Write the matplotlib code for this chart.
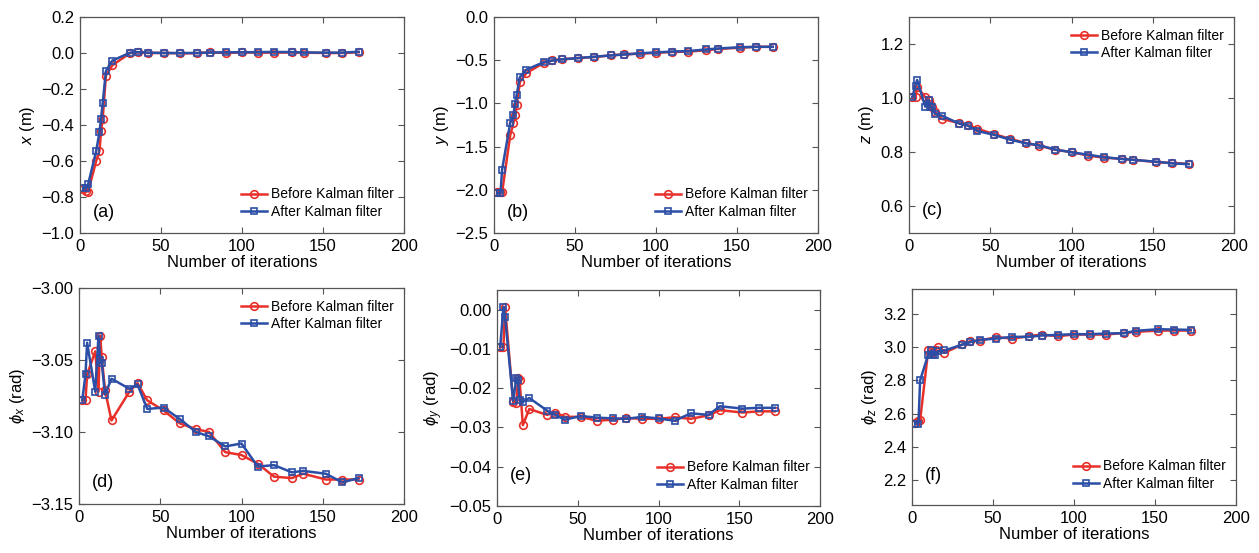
import matplotlib
matplotlib.use('Agg')
import matplotlib.pyplot as plt

# Kalman filter convergence: pose components vs number of iterations

plt.rcParams['font.family'] = ['Liberation Sans', 'DejaVu Sans']
plt.rcParams['mathtext.fontset'] = 'custom'
plt.rcParams['mathtext.rm'] = 'Liberation Sans'
plt.rcParams['mathtext.it'] = 'Liberation Sans:italic'

# Data
iters = [2, 4, 5, 10, 12, 13, 14, 16, 20, 31, 36, 42, 52, 62, 72, 80, 90, 100,
         110, 120, 131, 138, 152, 162, 172]

x_before = [-0.755, -0.765, -0.770, -0.600, -0.545, -0.435, -0.365, -0.125, -0.068,
            0.000, 0.003, 0.000, 0.000, -0.002, -0.001, 0.004, 0.000, 0.003,
            0.002, 0.002, 0.003, 0.002, 0.000, 0.000, 0.004]
x_after = [-0.752, -0.748, -0.730, -0.545, -0.440, -0.365, -0.280, -0.100, -0.042,
           0.002, 0.005, 0.002, 0.000, 0.000, 0.000, 0.002, 0.004, 0.004,
           0.005, 0.006, 0.005, 0.003, 0.002, 0.002, 0.007]

y_before = [-2.03, -2.03, -2.03, -1.37, -1.227, -1.138, -1.015, -0.752, -0.648,
            -0.529, -0.502, -0.490, -0.475, -0.463, -0.444, -0.432, -0.425, -0.415,
            -0.405, -0.400, -0.385, -0.370, -0.355, -0.345, -0.345]
y_after = [-2.04, -2.04, -1.767, -1.227, -1.138, -1.003, -0.900, -0.694, -0.610,
           -0.520, -0.505, -0.490, -0.475, -0.460, -0.445, -0.435, -0.420, -0.410,
           -0.400, -0.395, -0.375, -0.365, -0.350, -0.345, -0.345]

z_before = [1.003, 1.003, 1.042, 1.003, 0.993, 0.978, 0.965, 0.948, 0.923,
            0.907, 0.900, 0.886, 0.867, 0.849, 0.833, 0.824, 0.808, 0.800,
            0.787, 0.779, 0.775, 0.771, 0.763, 0.759, 0.756]
z_after = [1.003, 1.046, 1.067, 0.968, 0.993, 0.968, 0.965, 0.941, 0.935,
           0.905, 0.898, 0.878, 0.864, 0.846, 0.832, 0.825, 0.809, 0.799,
           0.790, 0.781, 0.774, 0.771, 0.764, 0.758, 0.755]

phx_before = [-3.078, -3.078, -3.060, -3.044, -3.072, -3.033, -3.048, -3.071, -3.092,
              -3.072, -3.066, -3.078, -3.085, -3.094, -3.098, -3.100, -3.114, -3.116,
              -3.122, -3.131, -3.132, -3.129, -3.133, -3.133, -3.133]
phx_after = [-3.078, -3.060, -3.038, -3.072, -3.033, -3.050, -3.052, -3.074, -3.063,
             -3.070, -3.067, -3.084, -3.083, -3.091, -3.100, -3.103, -3.110, -3.108,
             -3.124, -3.123, -3.128, -3.127, -3.129, -3.135, -3.132]

phy_before = [-0.0095, -0.0095, 0.0007, -0.0235, -0.0237, -0.0175, -0.0180, -0.0294, -0.0253,
              -0.0268, -0.0262, -0.0273, -0.0273, -0.0283, -0.0280, -0.0276, -0.0278, -0.0278,
              -0.0274, -0.0278, -0.0269, -0.0256, -0.0262, -0.0259, -0.0259]
phy_after = [-0.0095, 0.0007, -0.0020, -0.0232, -0.0175, -0.0180, -0.0230, -0.0235, -0.0225,
             -0.0257, -0.0268, -0.0280, -0.0271, -0.0275, -0.0277, -0.0278, -0.0273, -0.0277,
             -0.0283, -0.0264, -0.0268, -0.0246, -0.0252, -0.0250, -0.0250]

phz_before = [2.545, 2.555, 2.559, 2.980, 2.975, 2.970, 2.980, 3.000, 2.966,
              3.016, 3.036, 3.040, 3.060, 3.052, 3.066, 3.076, 3.066, 3.076,
              3.076, 3.076, 3.086, 3.092, 3.100, 3.100, 3.100]
phz_after = [2.540, 2.540, 2.800, 2.955, 2.980, 2.950, 2.955, 2.975, 2.980,
             3.015, 3.030, 3.044, 3.052, 3.062, 3.062, 3.070, 3.074, 3.078,
             3.078, 3.082, 3.084, 3.098, 3.108, 3.106, 3.104]

red = '#e8302a'
blue = '#2b4ea6'
W, H = 1259, 553

# (pixel box l, t, r, b), data, ylabel, ylim, yticks, tick format, tag, legend loc
panels = [
    ((80, 17, 404, 233), x_before, x_after, '$x$ (m)', (-1.0, 0.2),
     [-1.0, -0.8, -0.6, -0.4, -0.2, 0.0, 0.2], '%.1f', '(a)', 'lower right', 0.095),
    ((494, 17, 818, 233), y_before, y_after, '$y$ (m)', (-2.5, 0.0),
     [-2.5, -2.0, -1.5, -1.0, -0.5, 0.0], '%.1f', '(b)', 'lower right', 0.095),
    ((909, 17, 1234, 233), z_before, z_after, '$z$ (m)', (0.5, 1.3),
     [0.6, 0.8, 1.0, 1.2], '%.1f', '(c)', 'upper right', 0.105),
    ((79, 288, 404, 504), phx_before, phx_after, r'$\phi_x$ (rad)', (-3.15, -3.00),
     [-3.15, -3.10, -3.05, -3.00], '%.2f', '(d)', 'upper right', 0.10),
    ((497, 290, 820, 506), phy_before, phy_after, r'$\phi_y$ (rad)', (-0.05, 0.005),
     [-0.05, -0.04, -0.03, -0.02, -0.01, 0.0], '%.2f', '(e)', 'lower right', 0.14),
    ((912, 289, 1236, 505), phz_before, phz_after, r'$\phi_z$ (rad)', (2.05, 3.35),
     [2.2, 2.4, 2.6, 2.8, 3.0, 3.2], '%.1f', '(f)', 'lower right', 0.135),
]

fig = plt.figure(figsize=(W / 100, H / 100), dpi=100)

for box, before, after, ylab, ylim, yticks, fmt, tag, loc, tag_y in panels:
    l, t, r, b = box
    ax = fig.add_axes([l / W, 1 - b / H, (r - l) / W, (b - t) / H])
    ax.plot(iters, before, color=red, lw=1.8, marker='o', ms=5.5, mfc='none',
            mew=1.2, label='Before Kalman filter')
    ax.plot(iters, after, color=blue, lw=1.8, marker='s', ms=4.5, mfc='none',
            mew=1.2, label='After Kalman filter')
    ax.set_xlim(0, 200)
    ax.set_xticks([0, 50, 100, 150, 200])
    ax.set_ylim(*ylim)
    ax.set_yticks(yticks)
    ax.set_yticklabels([(fmt % v).replace('-', '\u2212') for v in yticks])
    ax.tick_params(direction='in', top=True, right=True, length=4, width=0.8,
                   labelsize=12, color='#555555', pad=4)
    for s in ax.spines.values():
        s.set_color('#555555')
        s.set_linewidth(0.9)
    ax.set_xlabel('Number of iterations', fontsize=12, labelpad=1)
    ax.set_ylabel(ylab, fontsize=12, labelpad=3)
    ax.text(0.04, tag_y, tag, transform=ax.transAxes, fontsize=13, va='center')
    if loc == 'upper right':
        anchor = (1.0, 0.99)
    else:
        anchor = (1.0, 0.02)
    ax.legend(loc=loc, bbox_to_anchor=anchor, frameon=False, fontsize=10,
              handlelength=1.9, handletextpad=0.3, labelspacing=0.25,
              borderaxespad=0.3)

fig.savefig('out.png', dpi=100)
